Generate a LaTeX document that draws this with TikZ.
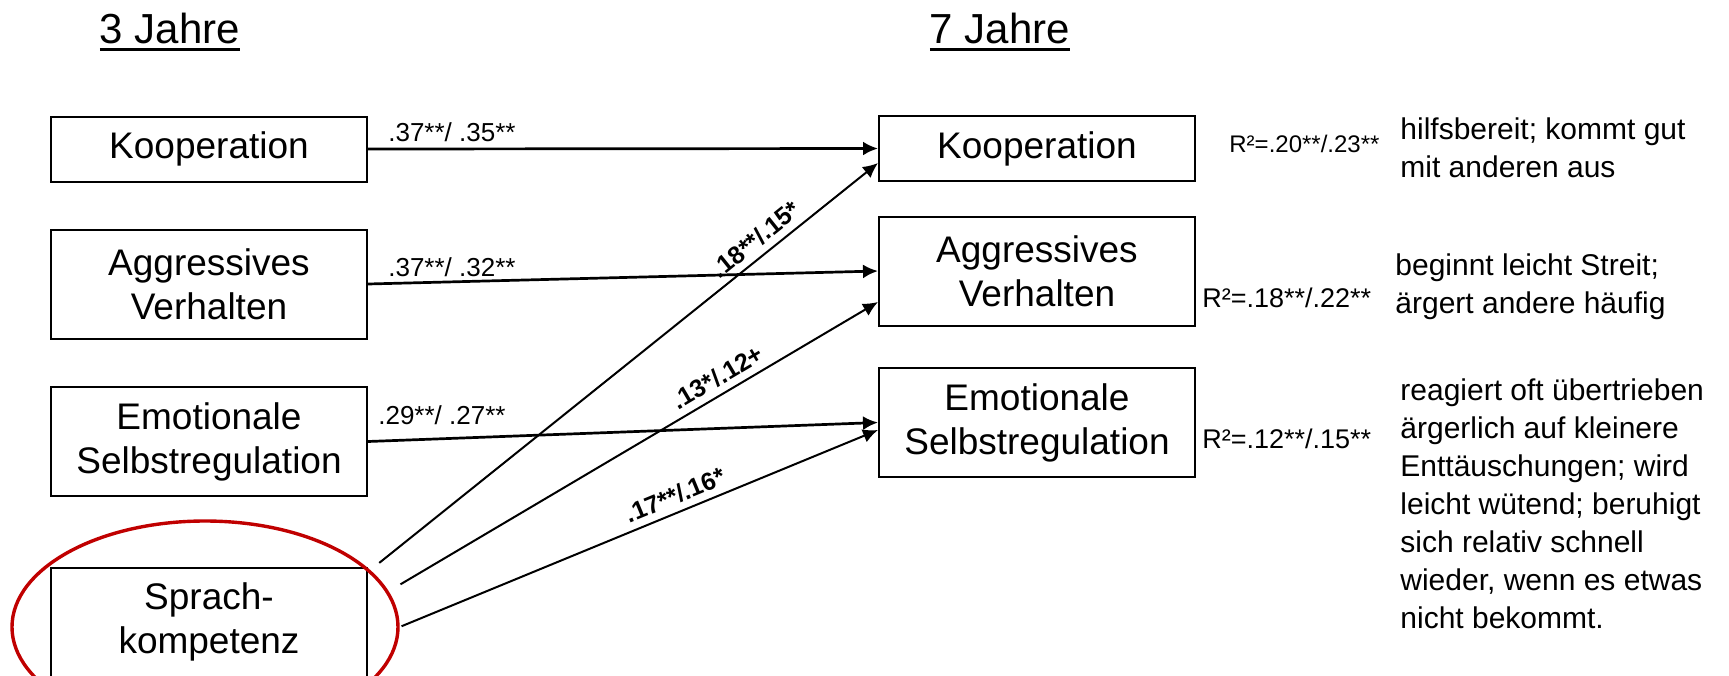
\documentclass[tikz,border=0pt]{standalone}
\usepackage{fontspec}
\setmainfont{Liberation Sans}
\usepackage{tikz}
\usetikzlibrary{arrows.meta,shapes.geometric}

\definecolor{ringred}{RGB}{192,0,0}
\newsavebox\jahrbox
\newcommand{\jahr}[1]{\sbox\jahrbox{#1}\usebox\jahrbox\llap{\rule[-4pt]{\wd\jahrbox}{1.3pt}}}

\begin{document}
\begin{tikzpicture}[x=0.5pt,y=-0.5pt,
    box/.style={draw, line width=1pt, minimum width=158pt, align=center, inner sep=0pt,
      font=\fontsize{18.5}{22}\selectfont},
    one/.style={box, minimum height=32.5pt},
    two/.style={box, minimum height=54.5pt},
    title/.style={anchor=base, inner sep=0pt, font=\fontsize{21}{25}\selectfont},
    coef/.style={anchor=base west, inner sep=0pt, font=\fontsize{13}{15}\selectfont},
    bcoef/.style={sloped, above, font=\bfseries\fontsize{12.5}{15}\selectfont},
    rsq/.style={anchor=base west, inner sep=0pt, font=\fontsize{13.5}{16}\selectfont},
    note/.style={anchor=north west, inner sep=0pt, align=left, font=\fontsize{15}{19}\selectfont},
    ring/.style={ellipse, draw=ringred, line width=1.7pt, minimum width=193pt, minimum height=106pt, inner sep=0pt},
    lead/.style={-{Latex[length=7.5pt,width=7pt]}, line width=1.35pt},
    cross/.style={-{Latex[length=7.5pt,width=7pt]}, line width=1pt}]
  \useasboundingbox (0,0) rectangle (1729,675);
  \clip (0,0) rectangle (1729,675);

  \node [title] (y3) at (170,43) {\jahr{3 Jahre}};
  \node [title] (y7) at (1000,43) {\jahr{7 Jahre}};

  % 3 Jahre
  \node [one] (lk) at (209,149) {Kooperation};
  \node [two] (la) at (209,284) {Aggressives\\Verhalten};
  \node [two] (le) at (209,441.5) {Emotionale\\Selbstregulation};
  \node [two] (ls) at (209,622) {Sprach-\\kompetenz};
  \node [ring] (ring) at (205,627) {};

  % 7 Jahre
  \node [one] (rk) at (1037,148.5) {Kooperation};
  \node [two] (ra) at (1037,271) {Aggressives\\Verhalten};
  \node [two] (re) at (1037,422.5) {Emotionale\\Selbstregulation};

  \draw [lead] (lk.east) -- node [coef, pos=0, xshift=9.5pt, yshift=3.9pt] (c1) {.37**/ .35**} (rk.west);
  \draw [lead] (la.east) -- node [coef, pos=0, xshift=9.5pt, yshift=3.7pt] (c2) {.37**/ .32**} (ra.west);
  \draw [lead] (le.east) -- node [coef, pos=0, xshift=4.5pt, yshift=8.5pt] (c3) {.29**/ .27**} (re.west);

  \draw [cross, shorten <=5.75pt] (ring.19) -- node [bcoef, pos=0.78] (c4) {.18**/.15*} ([yshift=-7.25pt]rk.west);
  \draw [cross, shorten <=6.85pt] (ring.11) -- node [bcoef, pos=0.69] (c5) {.13*/.12+} ([yshift=-15.5pt]ra.west);
  \draw [cross, shorten <=1pt] (ring.0) -- node [bcoef, pos=0.59] (c6) {.17**/.16*} ([yshift=-3.75pt]re.west);

  \node [rsq, font=\fontsize{12}{14}\selectfont] (r1) at (1229,152) {R²=.20**/.23**};
  \node [rsq] (r2) at (1202,307) {R²=.18**/.22**};
  \node [rsq] (r3) at (1202,448) {R²=.12**/.15**};

  \node [note] (d1) at (1400,117) {hilfsbereit; kommt gut\\mit anderen aus};
  \node [note] (d2) at (1395,253) {beginnt leicht Streit;\\ärgert andere häufig};
  \node [note] (d3) at (1400,378) {reagiert oft übertrieben\\ärgerlich auf kleinere\\Enttäuschungen; wird\\leicht wütend; beruhigt\\sich relativ schnell\\wieder, wenn es etwas\\nicht bekommt.};
\end{tikzpicture}
\end{document}
